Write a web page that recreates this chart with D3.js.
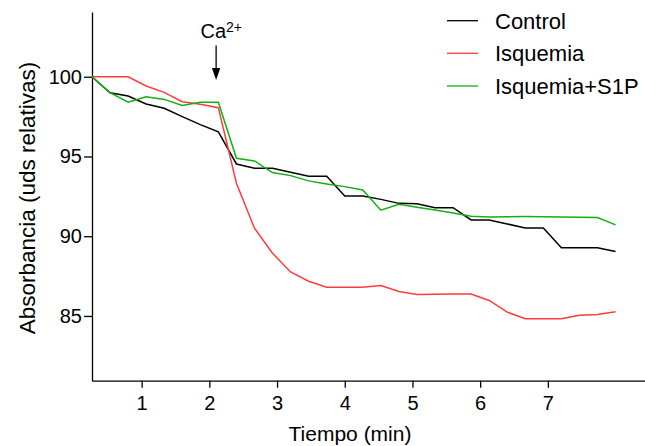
<!DOCTYPE html>
<html>
<head>
<meta charset="utf-8">
<script src="https://cdn.jsdelivr.net/npm/d3@7"></script>
<style>
  html, body { margin: 0; padding: 0; background: #fff; }
  svg { display: block; font-family: "Liberation Sans", Arial, sans-serif; }
</style>
</head>
<body>
<svg id="chart" width="645" height="446"></svg>
<script>
// Sampling times (seconds), one reading every 16 s
const timeSec = [16, 32, 48, 64, 80, 96, 112, 128, 144, 160,
                 176, 192, 208, 224, 240, 256, 272, 288, 304, 320,
                 336, 352, 368, 384, 400, 416, 432, 448, 464, 480];

// Relative absorbance for each condition
const control = [100, 99.0, 98.79, 98.29, 98.02, 97.5, 97.0, 96.55, 94.53, 94.26,
                 94.26, 94.01, 93.76, 93.76, 92.52, 92.52, 92.31, 92.06, 92.03, 91.79,
                 91.79, 91.02, 91.02, 90.77, 90.52, 90.52, 89.27, 89.27, 89.27, 89.04];
const isquemia = [100, 100, 100, 99.42, 99.02, 98.43, 98.27, 98.06, 93.32, 90.5,
                  88.93, 87.76, 87.18, 86.8, 86.8, 86.8, 86.91, 86.53, 86.34, 86.36,
                  86.37, 86.38, 85.97, 85.24, 84.82, 84.82, 84.82, 85.05, 85.09, 85.26];
const isquemiaS1P = [100, 99.0, 98.4, 98.75, 98.58, 98.2, 98.4, 98.4, 94.89, 94.72,
                     93.99, 93.8, 93.47, 93.28, 93.11, 92.9, 91.63, 92.0, 91.82, 91.64,
                     91.45, 91.25, 91.21, 91.22, 91.23, 91.22, 91.21, 91.19, 91.17, 90.71];

const seriesNames = ["Control", "Isquemia", "Isquemia+S1P"];
const seriesColors = ["#000000", "#ff3b3b", "#11b011"];
const xTicks = [1, 2, 3, 4, 5, 6, 7];
const yTicks = [85, 90, 95, 100];
const caAdditionMin = 2.1;

const svg = d3.select("#chart");

const x = d3.scaleLinear().domain([16 / 60, 8.435]).range([92, 645]);
const y = d3.scaleLinear().domain([80.94, 104.06]).range([380.7, 12]);

// Axes
const xAxis = svg.append("g")
  .attr("transform", "translate(0,380.7)")
  .call(d3.axisBottom(x).tickValues(xTicks).tickSize(7).tickSizeOuter(0).tickPadding(8)
        .tickFormat(d3.format("d")));
const yAxis = svg.append("g")
  .attr("transform", "translate(92,0)")
  .call(d3.axisLeft(y).tickValues(yTicks).tickSize(8).tickSizeOuter(0).tickPadding(2)
        .tickFormat(d3.format("d")));

[xAxis, yAxis].forEach(g => {
  g.selectAll("path, line").attr("stroke", "#000").attr("stroke-width", 1.3);
  g.selectAll("text").attr("font-size", 20).attr("fill", "#000")
    .attr("font-family", "'Liberation Sans', Arial, sans-serif");
});

// Axis titles
svg.append("text")
  .attr("x", 350).attr("y", 440.5)
  .attr("text-anchor", "middle")
  .attr("font-size", 21)
  .text("Tiempo (min)");

svg.append("text")
  .attr("transform", "translate(34.5,198) rotate(-90)")
  .attr("text-anchor", "middle")
  .attr("font-size", 22.5)
  .text("Absorbancia (uds relativas)");

// Series lines
const allSeries = [control, isquemia, isquemiaS1P];
const line = d3.line()
  .x((d, i) => x(timeSec[i] / 60))
  .y(d => y(d));

allSeries.forEach((vals, k) => {
  svg.append("path")
    .datum(vals)
    .attr("fill", "none")
    .attr("stroke", seriesColors[k])
    .attr("stroke-width", 1.5)
    .attr("stroke-linejoin", "miter")
    .attr("d", line);
});

// Calcium addition marker
const ax = x(caAdditionMin);
const caLabel = svg.append("text")
  .attr("x", 200.5).attr("y", 38)
  .attr("font-size", 20);
caLabel.append("tspan").text("Ca");
caLabel.append("tspan").attr("font-size", 14).attr("dy", -6.5).text("2+");

svg.append("line")
  .attr("x1", ax).attr("x2", ax)
  .attr("y1", 45.5).attr("y2", 70)
  .attr("stroke", "#000").attr("stroke-width", 1.3);
svg.append("path")
  .attr("d", `M${ax - 4.2},68 L${ax + 4.2},68 L${ax},80 Z`)
  .attr("fill", "#000");

// Legend
const legend = svg.append("g");
const legendY = [20.7, 53.3, 86];
seriesNames.forEach((name, k) => {
  legend.append("line")
    .attr("x1", 447).attr("x2", 478)
    .attr("y1", legendY[k]).attr("y2", legendY[k])
    .attr("stroke", seriesColors[k]).attr("stroke-width", 1.3);
  legend.append("text")
    .attr("x", 495).attr("y", legendY[k])
    .attr("dy", "0.36em")
    .attr("font-size", 22)
    .text(name);
});
</script>
</body>
</html>
